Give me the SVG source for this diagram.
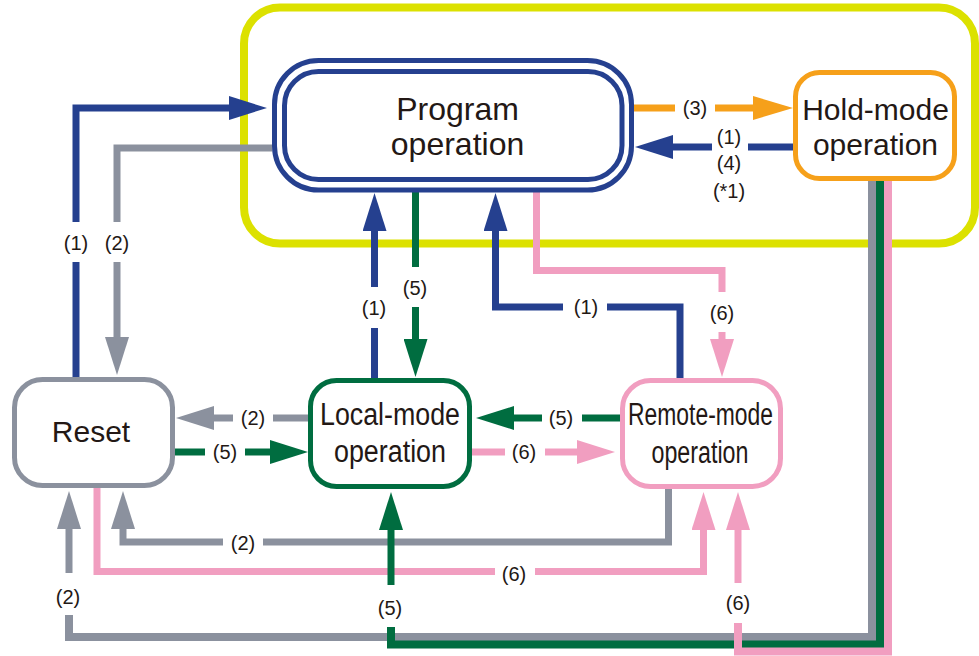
<svg xmlns="http://www.w3.org/2000/svg" width="979" height="656" viewBox="0 0 979 656">
<style>
  .node { fill: #ffffff; stroke-width: 5; }
  .ntext { font-family: "Liberation Sans", Arial, sans-serif; fill: #231815; text-anchor: middle; }
  .lbl { font-family: "Liberation Sans", Arial, sans-serif; font-size: 20px; fill: #231815; text-anchor: middle; }
  .c { fill: none; stroke-width: 7; stroke-linejoin: miter; stroke-linecap: butt; }
  .blue { stroke: #25408f; }
  .gray { stroke: #8b919e; }
  .green { stroke: #006d40; }
  .pink { stroke: #f19ec0; }
  .orange { stroke: #f6a01a; }
  .wide { stroke-width: 8; }
</style>
<defs>
  <marker id="ah-blue" markerUnits="userSpaceOnUse" markerWidth="38" markerHeight="24" refX="0" refY="12" orient="auto"><path d="M0,0 L38,12 L0,24 z" fill="#25408f"/></marker>
  <marker id="ah-gray" markerUnits="userSpaceOnUse" markerWidth="38" markerHeight="24" refX="0" refY="12" orient="auto"><path d="M0,0 L38,12 L0,24 z" fill="#8b919e"/></marker>
  <marker id="ah-green" markerUnits="userSpaceOnUse" markerWidth="38" markerHeight="24" refX="0" refY="12" orient="auto"><path d="M0,0 L38,12 L0,24 z" fill="#006d40"/></marker>
  <marker id="ah-pink" markerUnits="userSpaceOnUse" markerWidth="38" markerHeight="24" refX="0" refY="12" orient="auto"><path d="M0,0 L38,12 L0,24 z" fill="#f19ec0"/></marker>
  <marker id="ah-orange" markerUnits="userSpaceOnUse" markerWidth="40" markerHeight="24" refX="0" refY="12" orient="auto"><path d="M0,0 L40,12 L0,24 z" fill="#f6a01a"/></marker>
</defs>

<rect id="program-area" x="244" y="7.5" width="731" height="236" rx="36" fill="none" stroke="#dce100" stroke-width="8"/>

<g id="connectors">
  <!-- gray (2) -->
  <path class="c gray" d="M272,148 H117 V222"/>
  <path class="c gray" d="M117,262 V337" marker-end="url(#ah-gray)"/>
  <path class="c gray" d="M308,418 H273"/>
  <path class="c gray" d="M233,418 H214" marker-end="url(#ah-gray)"/>
  <path class="c gray" d="M668.5,489 V542 H263"/>
  <path class="c gray" d="M223,542 H123 V529" marker-end="url(#ah-gray)"/>
  <path class="c gray wide" d="M872,181 V637 H69 V615"/>
  <path class="c gray" d="M69,573 V529" marker-end="url(#ah-gray)"/>

  <!-- pink (6) -->
  <path class="c pink" d="M536.5,190 V270.5 H722 V292"/>
  <path class="c pink" d="M722,332 V339" marker-end="url(#ah-pink)"/>
  <path class="c pink" d="M472,452 H505"/>
  <path class="c pink" d="M545,452 H577" marker-end="url(#ah-pink)"/>
  <path class="c pink" d="M97,488 V571.5 H495"/>
  <path class="c pink" d="M535,571.5 H703.5 V530" marker-end="url(#ah-pink)"/>

  <!-- green (5) -->
  <path class="c green" d="M415.5,190 V267"/>
  <path class="c green" d="M415.5,307 V339" marker-end="url(#ah-green)"/>
  <path class="c green" d="M175,452 H205"/>
  <path class="c green" d="M245,452 H270" marker-end="url(#ah-green)"/>
  <path class="c green" d="M620,418 H582"/>
  <path class="c green" d="M542,418 H514" marker-end="url(#ah-green)"/>
  <path class="c green wide" d="M880,181 V644.5 H391 V627"/>
  <path class="c green" d="M391,585 V530" marker-end="url(#ah-green)"/>

  <!-- blue (1) -->
  <path class="c blue" d="M76,377 V262"/>
  <path class="c blue" d="M76,222 V108 H229" marker-end="url(#ah-blue)"/>
  <path class="c blue" d="M793,147 H748"/>
  <path class="c blue" d="M712,147 H673" marker-end="url(#ah-blue)"/>
  <path class="c blue" d="M374.5,378 V328"/>
  <path class="c blue" d="M374.5,287 V231" marker-end="url(#ah-blue)"/>
  <path class="c blue" d="M680,378 V307 H607"/>
  <path class="c blue" d="M563,307 H495.5 V231" marker-end="url(#ah-blue)"/>

  <!-- orange (3) -->
  <path class="c orange" d="M634,108 H675"/>
  <path class="c orange" d="M715,108 H753" marker-end="url(#ah-orange)"/>

  <!-- pink (6) from hold -->
  <path class="c pink wide" d="M888,181 V651.5 H738 V623"/>
  <path class="c pink" d="M738,583 V530" marker-end="url(#ah-pink)"/>

  <!-- labels -->
  <text class="lbl" x="76" y="250">(1)</text>
  <text class="lbl" x="117" y="250">(2)</text>
  <text class="lbl" x="695" y="115">(3)</text>
  <text class="lbl" x="729" y="144">(1)</text>
  <text class="lbl" x="729" y="170">(4)</text>
  <text class="lbl" x="729" y="198">(*1)</text>
  <text class="lbl" x="374" y="315">(1)</text>
  <text class="lbl" x="415" y="295">(5)</text>
  <text class="lbl" x="586" y="314">(1)</text>
  <text class="lbl" x="722" y="320">(6)</text>
  <text class="lbl" x="253" y="425">(2)</text>
  <text class="lbl" x="225" y="459">(5)</text>
  <text class="lbl" x="561" y="425">(5)</text>
  <text class="lbl" x="524" y="459">(6)</text>
  <text class="lbl" x="243" y="550">(2)</text>
  <text class="lbl" x="514" y="581">(6)</text>
  <text class="lbl" x="68" y="604">(2)</text>
  <text class="lbl" x="390" y="615">(5)</text>
  <text class="lbl" x="738" y="610">(6)</text>
</g>

<g id="program">
  <rect x="274.5" y="60.5" width="357" height="129.5" rx="44" fill="#ffffff" stroke="#25408f" stroke-width="5"/>
  <rect x="284.5" y="71.5" width="337.5" height="108" rx="34" fill="none" stroke="#25408f" stroke-width="5"/>
  <text class="ntext" x="457.5" y="120" font-size="32">Program</text>
  <text class="ntext" x="457.5" y="155" font-size="32">operation</text>
</g>

<g id="hold">
  <rect class="node" x="795.5" y="72.5" width="159" height="106" rx="24" stroke="#f6a01a"/>
  <text class="ntext" x="875.5" y="120" font-size="30">Hold-mode</text>
  <text class="ntext" x="875.5" y="155" font-size="30">operation</text>
</g>

<g id="reset">
  <rect class="node" x="14.5" y="379.5" width="158" height="106" rx="28" stroke="#8b919e"/>
  <text class="ntext" x="91" y="442" font-size="30">Reset</text>
</g>

<g id="local">
  <rect class="node" x="310.5" y="380.5" width="159" height="106" rx="26" stroke="#006d40"/>
  <text class="ntext" x="390" y="425" font-size="31" textLength="140" lengthAdjust="spacingAndGlyphs">Local-mode</text>
  <text class="ntext" x="390" y="462" font-size="31" textLength="112" lengthAdjust="spacingAndGlyphs">operation</text>
</g>

<g id="remote">
  <rect class="node" x="622.5" y="380.5" width="158" height="106" rx="28" stroke="#f19ec0"/>
  <text class="ntext" x="700.5" y="425" font-size="31" textLength="145" lengthAdjust="spacingAndGlyphs">Remote-mode</text>
  <text class="ntext" x="700" y="463" font-size="31" textLength="97" lengthAdjust="spacingAndGlyphs">operation</text>
</g>
</svg>
